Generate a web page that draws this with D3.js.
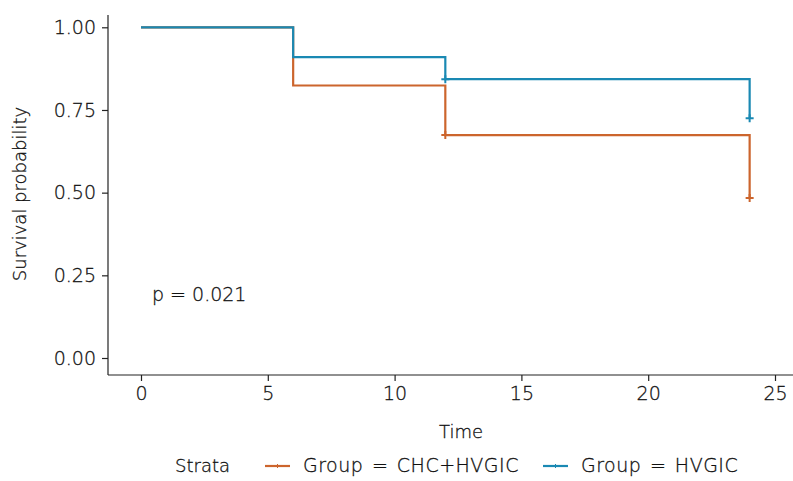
<!DOCTYPE html>
<html><head><meta charset="utf-8">
<script src="https://cdn.jsdelivr.net/npm/d3@7"></script>
<style>body{margin:0;background:#fff}svg{display:block}
text{fill:#111;stroke:#111;stroke-width:0.3px}</style>
</head><body>
<svg id="c" width="793" height="481"></svg>
<script>
const groups = ["Group = CHC+HVGIC", "Group = HVGIC"];
const colors = ["#CC652D", "#1A89B3"];
// step points: [time, survival]
const timesA = [0, 6, 12, 24];
const survA  = [1.0, 0.824, 0.674, 0.484];
const timesB = [0, 6, 12, 24];
const survB  = [1.0, 0.910, 0.843, 0.725];
const censorTimes = [12, 24];
const xTicks = [0, 5, 10, 15, 20, 25];
const yTicks = [0, 0.25, 0.5, 0.75, 1.0];
const pText = "p = 0.021";

const svg = d3.select("#c");
const font = "'DejaVu Sans', sans-serif";
const fs = "18px", fw = 200;
const x = d3.scaleLinear().domain([0, 25]).range([141, 775]);
const y = d3.scaleLinear().domain([0, 1]).range([358, 27.3]);

// axes
const gx = svg.append("g").attr("transform", "translate(0,375)")
  .call(d3.axisBottom(x).tickValues(xTicks).tickSize(6).tickPadding(6).tickFormat(d3.format("d")));
gx.select(".domain").attr("d", "M108,0H793");
const gy = svg.append("g").attr("transform", "translate(108,0)")
  .call(d3.axisLeft(y).tickValues(yTicks).tickSize(6).tickPadding(6).tickFormat(d3.format(".2f")));
gy.select(".domain").attr("d", "M0,15V375");
[gx, gy].forEach(g => {
  g.selectAll("path,line").attr("stroke", "#222").attr("stroke-width", 1.2);
  g.selectAll("text").style("font-family", font).style("font-size", "19px").style("font-weight", fw);
});

function stepLine(ts, ss) {
  const pts = [];
  for (let i = 0; i < ts.length; i++) {
    if (i > 0) pts.push([ts[i], ss[i - 1]]);
    pts.push([ts[i], ss[i]]);
  }
  return pts;
}
const series = [[timesA, survA], [timesB, survB]];
const line = d3.line().x(d => x(d[0])).y(d => y(d[1]));
series.forEach((s, i) => {
  svg.append("path").datum(stepLine(s[0], s[1]))
    .attr("d", line).attr("fill", "none").attr("stroke", colors[i]).attr("stroke-width", 2.2);
  censorTimes.forEach(t => {
    const idx = s[0].indexOf(t);
    const cx = x(t), cy = y(s[1][idx]);
    svg.append("path").attr("d", `M${cx-4},${cy}H${cx+4}M${cx},${cy-4}V${cy+4}`)
      .attr("stroke", colors[i]).attr("stroke-width", 2);
  });
});

svg.append("text").attr("x", 152).attr("y", 301).text(pText)
  .style("font-family", font).style("font-size", "19px").style("font-weight", fw);

svg.append("text").attr("x", 461).attr("y", 438).attr("text-anchor", "middle").text("Time")
  .style("font-family", font).style("font-size", fs).style("font-weight", fw);
svg.append("text").attr("transform", "translate(26,194) rotate(-90)").attr("text-anchor", "middle")
  .text("Survival probability").style("font-family", font).style("font-size", fs).style("font-weight", fw);

// legend
const lg = svg.append("g").style("font-family", font).style("font-size", "19px").style("font-weight", fw)
  .style("letter-spacing", "0.5px").style("word-spacing", "2px");
lg.append("text").attr("x", 175).attr("y", 472).text("Strata").style("letter-spacing", "0px").style("font-size", fs);
const keyX = [265, 543];
groups.forEach((g, i) => {
  const kx = keyX[i], ky = 466;
  lg.append("line").attr("x1", kx).attr("x2", kx + 25).attr("y1", ky).attr("y2", ky)
    .attr("stroke", colors[i]).attr("stroke-width", 2.2);
  lg.append("path").attr("d", `M${kx+12.5-2},${ky}H${kx+12.5+2}M${kx+12.5},${ky-2}V${ky+2}`)
    .attr("stroke", colors[i]).attr("stroke-width", 1);
  lg.append("text").attr("x", kx + 38).attr("y", 472).text(g);
});
</script>
</body></html>
